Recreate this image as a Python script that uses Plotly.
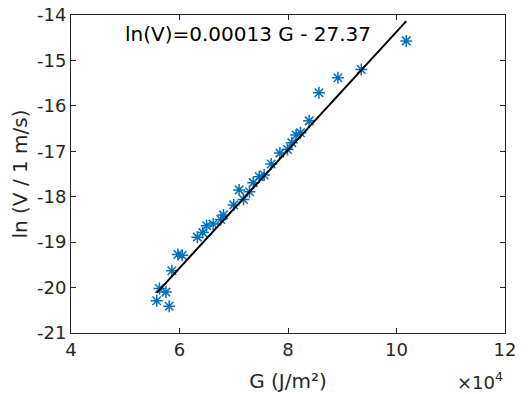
import plotly.graph_objects as go

# G in units of 1e4 J/m^2, ln(V)
g_vals = [5.58, 5.81, 5.63, 5.75, 5.86, 5.97, 6.05, 6.33, 6.43, 6.50,
          6.62, 6.76, 6.81, 7.00, 7.18, 7.10, 7.29, 7.36, 7.47, 7.56,
          7.69, 7.85, 7.99, 8.07, 8.15, 8.23, 8.39, 8.57, 8.92, 9.35, 10.18]
lnv_vals = [-20.29, -20.41, -20.02, -20.10, -19.63, -19.27, -19.29, -18.89, -18.79, -18.64,
            -18.60, -18.50, -18.40, -18.18, -18.06, -17.85, -17.89, -17.69, -17.56, -17.52,
            -17.28, -17.04, -16.96, -16.81, -16.64, -16.59, -16.33, -15.71, -15.38, -15.20, -14.57]

slope = 1.3      # 0.00013 per J/m^2 -> 1.3 per 1e4 J/m^2
intercept = -27.37

x_ticks = [4, 6, 8, 10, 12]
y_ticks = [-21, -20, -19, -18, -17, -16, -15, -14]
y_ticktext = [str(v) for v in y_ticks]  # plain hyphen like matlab

fit_x = [min(g_vals), max(g_vals)]
fit_y = [slope * x + intercept for x in fit_x]

fig = go.Figure()
fig.add_trace(go.Scatter(
    x=g_vals, y=lnv_vals, mode='markers',
    marker=dict(symbol='asterisk-open', size=10, color='#0072BD',
                line=dict(color='#0072BD', width=1.5)),
    showlegend=False
))
fig.add_trace(go.Scatter(
    x=fit_x, y=fit_y, mode='lines',
    line=dict(color='black', width=2),
    showlegend=False
))

axis_style = dict(
    showgrid=False, zeroline=False, showline=True, linecolor='#262626',
    linewidth=1, mirror='allticks', ticks='inside', ticklen=5, automargin=False,
    ticklabeloverflow='allow',
    tickcolor='#262626', tickfont=dict(size=18, color='#262626'),
)

fig.update_xaxes(range=[4, 12], tickvals=x_ticks, **axis_style,
                 title=dict(text='G (J/m²)', font=dict(size=20, color='#262626'), standoff=15))
fig.update_yaxes(range=[-21, -14], tickvals=y_ticks, ticktext=y_ticktext, **axis_style,
                 title=dict(text='ln (V / 1 m/s)', font=dict(size=20, color='#262626'), standoff=13))

fig.add_annotation(x=7.26, y=-14.42, text='ln(V)=0.00013 G - 27.37', showarrow=False,
                   font=dict(size=20, color='black'))
fig.add_annotation(x=1, y=0, xref='paper', yref='paper', xanchor='right', yanchor='top',
                   yshift=-34, text='×10<sup>4</sup>', showarrow=False,
                   font=dict(size=18, color='#262626'))

# page body adds ~8px offset, so size/margins are trimmed to land the axes box where it should be
fig.update_layout(
    width=522, height=386,
    margin=dict(l=63, r=25, t=7, b=61),
    plot_bgcolor='white', paper_bgcolor='white',
    font=dict(family='DejaVu Sans'),
)

fig.write_html("out.html")
